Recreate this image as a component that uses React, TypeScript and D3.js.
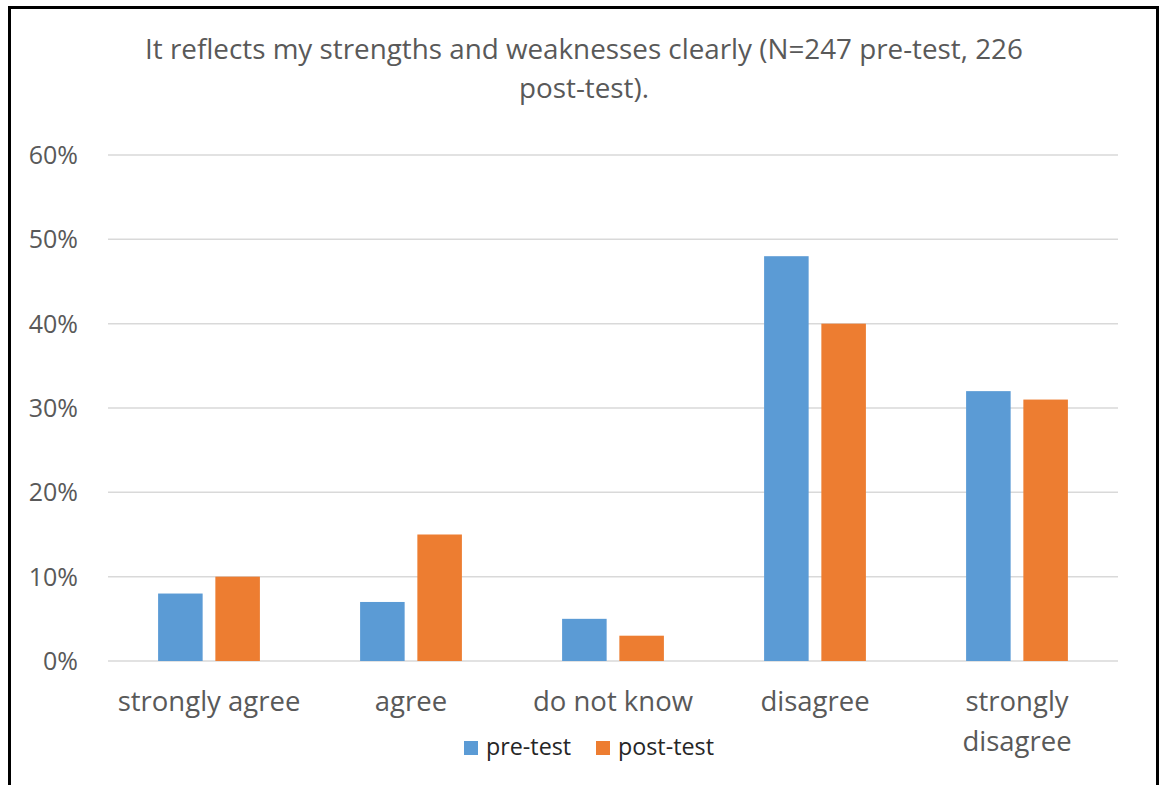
import React from "react";
import * as d3 from "d3";

const categories: string[][] = [
  ["strongly agree"],
  ["agree"],
  ["do not know"],
  ["disagree"],
  ["strongly", "disagree"],
];
const seriesNames = ["pre-test", "post-test"];
const preTest = [0.08, 0.07, 0.05, 0.48, 0.32];
const postTest = [0.1, 0.15, 0.03, 0.4, 0.31];
const yTicks = [0, 0.1, 0.2, 0.3, 0.4, 0.5, 0.6];
const titleLines = [
  "It reflects my strengths and weaknesses clearly (N=247 pre-test, 226",
  "post-test).",
];

const W = 1159;
const H = 785;
const colors = ["#5B9BD5", "#ED7D31"];
const textColor = "#595959";
const legendColor = "#262626";
const font = "'Open Sans', sans-serif";

export default function App() {
  const keys = categories.map((c) => c.join(" "));
  const x0 = d3.scaleBand<string>().domain(keys).range([108, 1118]).padding(0);
  const bw = x0.bandwidth();
  const x1 = d3
    .scaleBand<string>()
    .domain(seriesNames)
    .range([bw * 0.248, bw * 0.752])
    .paddingInner(0.222)
    .paddingOuter(0);
  const y = d3.scaleLinear().domain([0, 0.6]).range([661, 155]);
  const fmt = d3.format(".0%");
  const data = [preTest, postTest];

  return (
    <div style={{ position: "absolute", left: 0, top: 0 }}>
      <svg width={W} height={H} style={{ display: "block" }}>
        <rect x={0} y={0} width={W} height={H} fill="#fff" />
        <rect x={9.5} y={7.5} width={1148} height={820} fill="#fff" stroke="#000" strokeWidth={3} />
        {titleLines.map((t, i) => (
          <text
            key={i}
            x={584}
            y={59 + i * 39}
            textAnchor="middle"
            fontFamily={font}
            fontSize={27.8}
            fill={textColor}
          >
            {t}
          </text>
        ))}
        {yTicks.map((t) => (
          <g key={t}>
            <line x1={108} x2={1118} y1={y(t)} y2={y(t)} stroke="#d9d9d9" strokeWidth={1.5} />
            <text
              x={78}
              y={y(t) + 9}
              textAnchor="end"
              fontFamily={font}
              fontSize={25}
              fill={textColor}
            >
              {fmt(t)}
            </text>
          </g>
        ))}
        {keys.map((k, ci) => (
          <g key={k}>
            {seriesNames.map((s, si) => (
              <rect
                key={s}
                x={(x0(k) as number) + (x1(s) as number)}
                y={y(data[si][ci])}
                width={x1.bandwidth()}
                height={y(0) - y(data[si][ci])}
                fill={colors[si]}
              />
            ))}
            {categories[ci].map((line, li) => (
              <text
                key={li}
                x={(x0(k) as number) + bw / 2}
                y={711 + li * 40}
                textAnchor="middle"
                fontFamily={font}
                fontSize={27.5}
                fill={textColor}
              >
                {line}
              </text>
            ))}
          </g>
        ))}
        {seriesNames.map((s, si) => {
          const lx = [464, 596][si];
          return (
            <g key={s}>
              <rect x={lx} y={741} width={14} height={14} fill={colors[si]} />
              <text x={lx + 22} y={755} fontFamily={font} fontSize={23.3} fill={legendColor}>
                {s}
              </text>
            </g>
          );
        })}
      </svg>
    </div>
  );
}
